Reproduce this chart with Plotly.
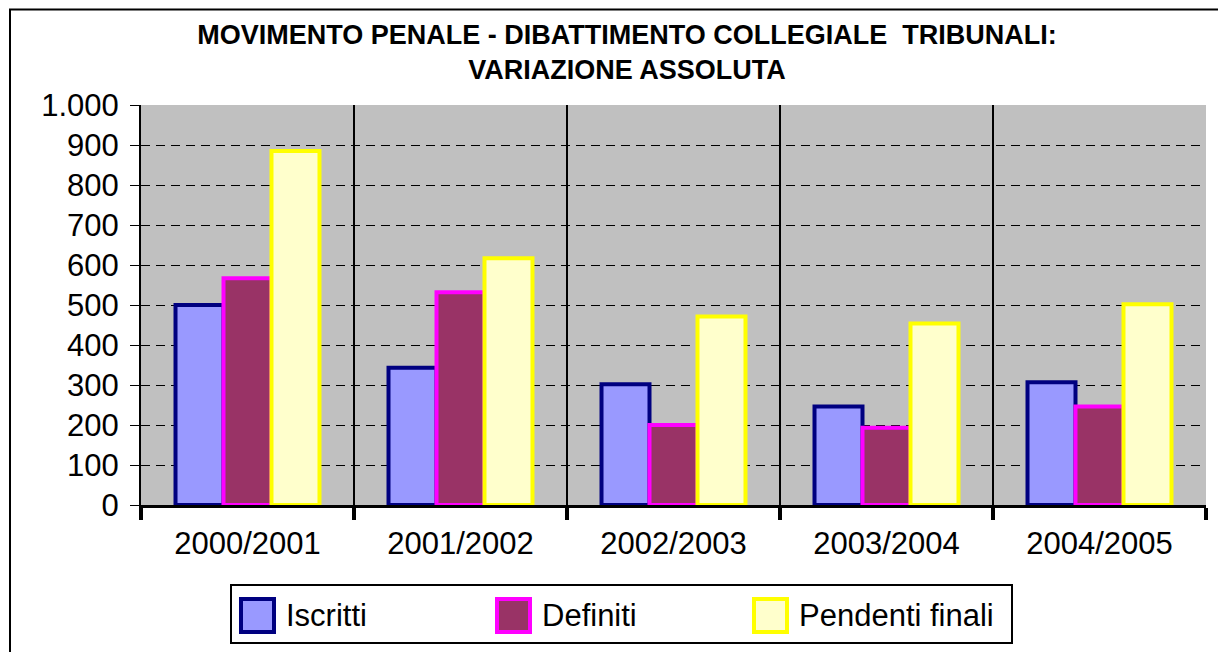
import plotly.graph_objects as go

categories = ["2000/2001", "2001/2002", "2002/2003", "2003/2004", "2004/2005"]
iscritti = [500, 343, 302, 246, 307]
definiti = [567, 532, 200, 193, 246]
pendenti = [885, 617, 471, 454, 502]

series_names = ["Iscritti", "Definiti", "Pendenti finali"]
fill_colors = ["#9999FF", "#993366", "#FFFFCC"]
line_colors = ["#000080", "#FF00FF", "#FFFF00"]
series_values = [iscritti, definiti, pendenti]

title_text = "MOVIMENTO PENALE - DIBATTIMENTO COLLEGIALE  TRIBUNALI:<br>VARIAZIONE ASSOLUTA"

OFF = 8  # page body margin
W, H = 1226 - OFF, 652 - OFF
# plot area in page pixels
PL, PR, PT, PB = 141, 1206, 105, 505
L, R, T, B = PL - OFF, PR - OFF, PT - OFF, PB - OFF
FONT = "Liberation Sans, Arial, sans-serif"

fig = go.Figure()
for name, vals, fc, lc in zip(series_names, series_values, fill_colors, line_colors):
    fig.add_trace(go.Bar(
        x=categories, y=vals, name=name,
        marker=dict(color=fc, line=dict(color=lc, width=4)),
        showlegend=False,
    ))

def px_x(p):
    return (p - PL) / (PR - PL)

def px_y(p):
    return (PB - p) / (PB - PT)

shapes = []
annotations = []
# outer frame
shapes.append(dict(type="rect", xref="paper", yref="paper",
                   x0=px_x(10), x1=px_x(1240), y0=px_y(9.5), y1=px_y(670),
                   line=dict(color="black", width=2), fillcolor="rgba(0,0,0,0)", layer="below"))
# legend box
shapes.append(dict(type="rect", xref="paper", yref="paper",
                   x0=px_x(231), x1=px_x(1012), y0=px_y(585), y1=px_y(643),
                   line=dict(color="black", width=2), fillcolor="white"))
sw_x = [239, 495, 752]
for i, name in enumerate(series_names):
    x0 = sw_x[i] + 2
    shapes.append(dict(type="rect", xref="paper", yref="paper",
                       x0=px_x(x0), x1=px_x(x0 + 33), y0=px_y(599), y1=px_y(632),
                       line=dict(color=line_colors[i], width=4), fillcolor=fill_colors[i]))
    annotations.append(dict(xref="paper", yref="paper", x=px_x(sw_x[i] + 45), y=px_y(615),
                            xanchor="left", yanchor="middle", showarrow=False, text=name,
                            font=dict(family=FONT, size=31, color="black")))

fig.update_layout(
    width=W, height=H,
    margin=dict(l=L, r=W - R, t=T, b=H - B, pad=0),
    paper_bgcolor="white", plot_bgcolor="#C0C0C0",
    separators=",.",
    barmode="group", bargap=0.324, bargroupgap=0,
    title=dict(text=title_text, xref="container", yref="container",
               x=(627 - OFF) / W, xanchor="center", y=1 - 36 / H, yanchor="top",
               font=dict(family=FONT, size=27, color="black", weight="bold")),
    font=dict(family=FONT, color="black"),
    shapes=shapes, annotations=annotations,
    showlegend=False,
)
fig.update_xaxes(
    type="category", tickson="boundaries", ticks="outside", ticklen=12, tickwidth=4,
    tickcolor="black", showgrid=True, gridcolor="black", gridwidth=2,
    showline=True, linecolor="black", linewidth=3, ticklabelstandoff=9,
    tickfont=dict(family=FONT, size=31, color="black"),
)
fig.update_yaxes(
    range=[0, 1000], dtick=100, tick0=0, tickformat=",d",
    ticks="outside", ticklen=9, tickwidth=1, tickcolor="black",
    showgrid=True, gridcolor="black", gridwidth=1, griddash="9px,6px",
    showline=True, linecolor="black", linewidth=2, zeroline=False,
    ticklabelstandoff=5,
    tickfont=dict(family=FONT, size=31, color="black"),
)

fig.write_html("out.html")
